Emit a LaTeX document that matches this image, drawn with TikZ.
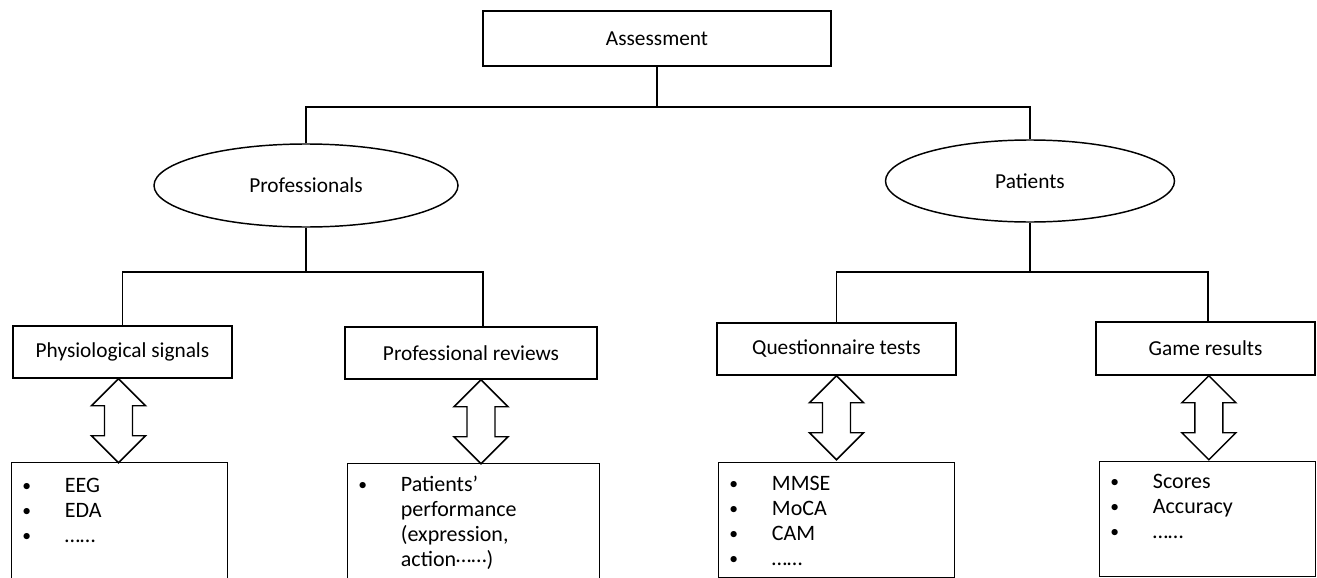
\documentclass[tikz,border=0pt]{standalone}
\usepackage{fontspec}
\setmainfont{Carlito}
\usepackage{tikz}
\usetikzlibrary{shapes.geometric}

\tikzset{
  boxtext/.style={font=\fontsize{16}{19}\selectfont},
  level box/.style={draw, line width=1.1pt, inner sep=0pt, boxtext},
  group oval/.style={draw, ellipse, line width=1.1pt, inner sep=0pt, boxtext},
  item box/.style={draw, line width=1.1pt, inner sep=0pt, anchor=north west},
  item list/.style={anchor=north west, align=left, inner sep=0pt, font=\fontsize{16.5}{18.75}\selectfont},
  bus/.style={line width=1.1pt},
  two way/.style={draw, line width=1.1pt, line join=miter, fill=white},
}
\newcommand{\bul}{\makebox[32pt][l]{\raisebox{0.8pt}{\scalebox{0.8}{\textbullet}}}}

\begin{document}
\begin{tikzpicture}[x=0.75pt,y=0.75pt,yscale=-1]
\fill[white] (0,0) rectangle (1317,578);
\clip (0,0) rectangle (1317,578);

%Shape: Rectangle
\node[level box, minimum width=261pt, minimum height=41.25pt] (assess) at (657,38.5) {Assessment};
%Shape: Ellipse
\node[group oval, minimum width=228pt, minimum height=62.25pt] (prof) at (306,185.5) {Professionals};
%Shape: Ellipse
\node[group oval, minimum width=216.75pt, minimum height=61.5pt] (pat) at (1030,181) {Patients};

%Shape: Rectangle
\node[level box, minimum width=164.25pt, minimum height=39pt] (phys) at (122.5,352) {Physiological signals};
%Shape: Rectangle
\node[level box, minimum width=189pt, minimum height=39pt] (rev) at (471,353) {Professional reviews};
%Shape: Rectangle
\node[level box, minimum width=179.25pt, minimum height=39pt] (quest) at (836.5,349) {Questionnaire tests};
%Shape: Rectangle
\node[level box, minimum width=164.25pt, minimum height=39.75pt] (game) at (1205.5,348.5) {Game results};

% Tree lines
\coordinate (hub) at (657,107);
\draw[bus] (assess.south) -- (hub);
\draw[bus] (prof.north) |- (hub) -| (pat.north);
\coordinate (profhub) at (306,272);
\draw[bus] (prof.south) -- (profhub);
\draw[bus] (phys.north) |- (profhub) -| ([xshift=9pt]rev.north);
\coordinate (pathub) at (1030,272);
\draw[bus] (pat.south) -- (pathub);
\draw[bus] (quest.north) |- (pathub) -| ([xshift=2pt]game.north);

%Shape: Up Down Arrow
\draw[two way] ([xshift=-3pt]phys.south) -- ++(27,27) -- ++(-13,0) -- ++(0,30) -- ++(13,0) -- ++(-27,27) -- ++(-27,-27) -- ++(13,0) -- ++(0,-30) -- ++(-13,0) -- cycle;
%Shape: Up Down Arrow
\draw[two way] ([xshift=7.5pt]rev.south) -- ++(27,27) -- ++(-13,0) -- ++(0,30) -- ++(13,0) -- ++(-27,27) -- ++(-27,-27) -- ++(13,0) -- ++(0,-30) -- ++(-13,0) -- cycle;
%Shape: Up Down Arrow
\draw[two way] (quest.south) -- ++(27,27) -- ++(-13,0) -- ++(0,30) -- ++(13,0) -- ++(-27,27) -- ++(-27,-27) -- ++(13,0) -- ++(0,-30) -- ++(-13,0) -- cycle;
%Shape: Up Down Arrow
\draw[two way] ([xshift=2.5pt]game.south) -- ++(27,27) -- ++(-13,0) -- ++(0,30) -- ++(13,0) -- ++(-27,27) -- ++(-27,-27) -- ++(13,0) -- ++(0,-30) -- ++(-13,0) -- cycle;

%Shape: Rectangle
\node[item box, minimum width=162pt, minimum height=105pt] (physlist) at (11,462) {};
%Shape: Rectangle
\node[item box, minimum width=189pt, minimum height=105pt] (revlist) at (347,463) {};
%Shape: Rectangle
\node[item box, minimum width=177pt, minimum height=86.25pt] (questlist) at (718,462) {};
%Shape: Rectangle
\node[item box, minimum width=162pt, minimum height=86.25pt] (gamelist) at (1099,461) {};

% Text Node
\node[item list] (physitems) at ([shift={(11,16)}]physlist.north west) {\bul EEG\\ \bul EDA\\ \bul ……};
% Text Node
\node[item list] (revitems) at ([shift={(11,13)}]revlist.north west) {\bul Patients’\\ \hspace*{32pt}performance\\ \hspace*{32pt}(expression,\\ \hspace*{32pt}action\raisebox{3pt}{……})};
% Text Node
\node[item list] (questitems) at ([shift={(11,14)}]questlist.north west) {\bul MMSE\\ \bul MoCA\\ \bul CAM\\ \bul ……};
% Text Node
\node[item list] (gameitems) at ([shift={(11,13)}]gamelist.north west) {\bul Scores\\ \bul Accuracy\\ \bul ……};

\end{tikzpicture}
\end{document}
